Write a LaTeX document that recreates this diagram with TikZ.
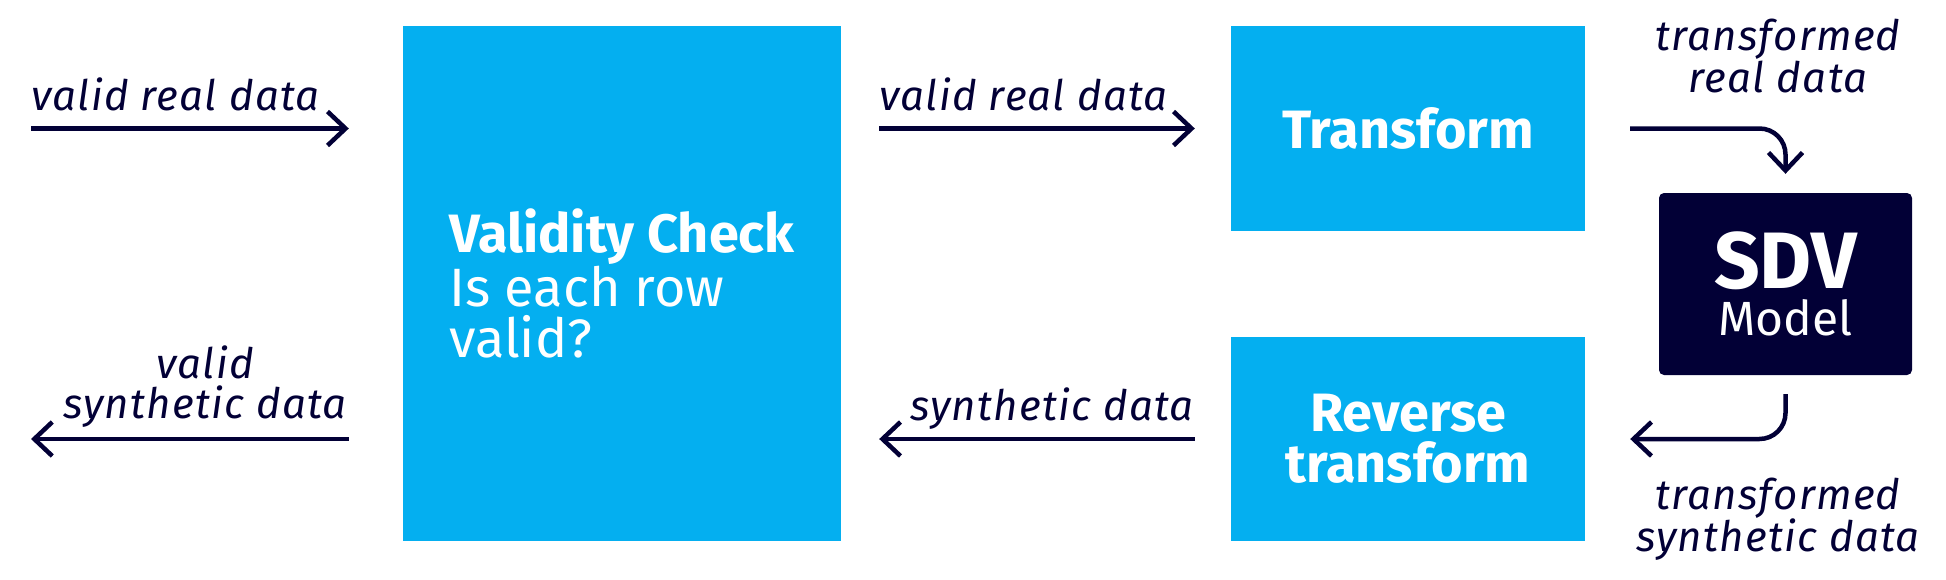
\documentclass[tikz,border=0pt]{standalone}
\usepackage{fontspec}
\setmainfont{Fira Sans}
\newfontfamily\lblfont[LetterSpace=3.0]{Fira Sans}
\usetikzlibrary{arrows.meta, positioning}
\definecolor{boxblue}{RGB}{4,175,240}
\definecolor{navy}{RGB}{2,0,54}

\begin{document}
\begin{tikzpicture}[x=1pt, y=-1pt,
    stage/.style={fill=boxblue, text=white, inner sep=0pt, font=\fontsize{54}{51}\selectfont},
    flow/.style={navy, line width=4.5pt, -{Straight Barb[length=18pt, width=34pt]}},
    lbl/.style={text=navy, inner sep=0pt, font=\lblfont\itshape\fontsize{42}{40}\selectfont}]
    \useasboundingbox (0,0) rectangle (1946,579);
    % blocks
    \node[stage, minimum width=438pt, minimum height=515pt, align=left] (check) at (622,283.5)
        {{\bfseries Validity Check}\\Is each row\\valid?};
    \node[stage, minimum width=354pt, minimum height=205pt] (transform) at (1408,128.5) {\bfseries Transform};
    \node[stage, minimum width=354pt, minimum height=204pt, align=center] (reverse) at (1408,439)
        {\bfseries Reverse\\\bfseries transform};
    \node[fill=navy, text=white, rounded corners=5pt, minimum width=253pt, minimum height=182pt,
        inner sep=0pt, align=center] (sdv) at (1785.5,284)
        {\fontsize{80}{70}\selectfont\bfseries SDV\\[8pt]\fontsize{48}{48}\selectfont Model};
    % free ends
    \coordinate (src) at (31,128.5);
    \coordinate (dst) at (31,439);
    % arrows
    \draw[flow, shorten >=54pt] (src) -- (src -| check.west);
    \draw[flow, shorten <=38pt, shorten >=36pt] (check.east |- transform.west) -- (transform.west);
    \draw[flow, rounded corners=26pt] ([xshift=45pt]transform.east) -| ([yshift=19pt]sdv.north);
    \draw[flow, rounded corners=26pt] ([yshift=-19pt]sdv.south) |- ([xshift=45pt]reverse.east);
    \draw[flow, shorten <=36pt, shorten >=38pt] (reverse.west) -- (reverse.west -| check.east);
    \draw[flow, shorten <=54pt] (dst -| check.west) -- (dst);
    % labels
    \node[lbl, anchor=base west] (l1) at (31,110) {valid real data};
    \node[lbl, anchor=base west] (l2) at (879,110) {valid real data};
    \node[lbl, anchor=south, align=center] (l3) at (1778,93) {transformed\\real data};
    \node[lbl, anchor=south, align=center] (l4) at (1778,561) {transformed\\synthetic data};
    \node[lbl, anchor=base west] (l5) at (910,420) {synthetic data};
    \node[lbl, anchor=south, align=center] (l6) at (205,428) {valid\\synthetic data};
\end{tikzpicture}
\end{document}
